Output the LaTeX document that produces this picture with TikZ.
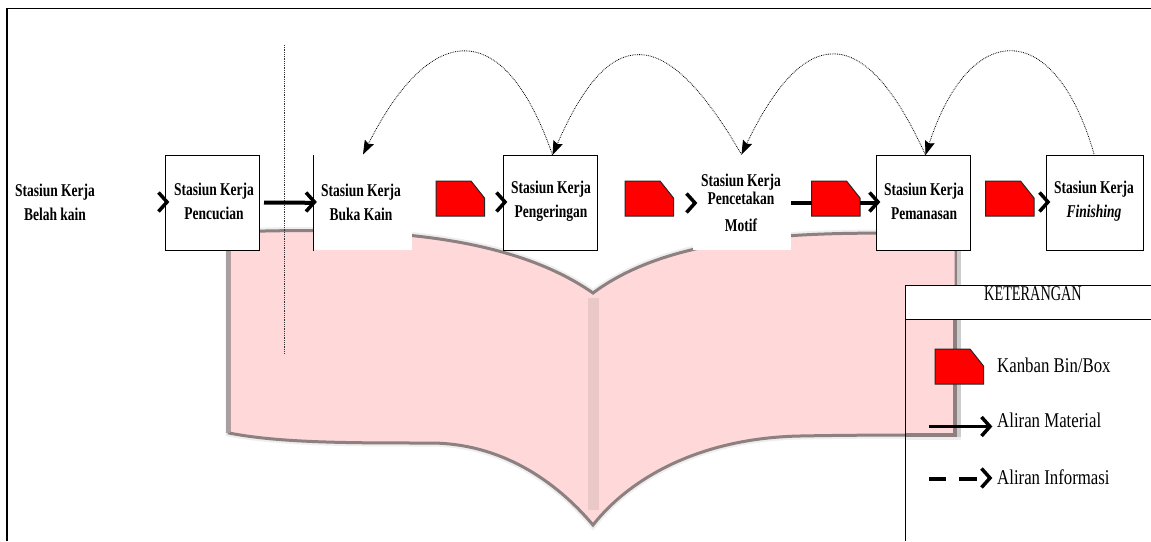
\documentclass[tikz,border=0pt]{standalone}
\usepackage{fontspec}
\setmainfont[FakeStretch=0.75]{Liberation Serif}
\newfontfamily\legendfont[FakeStretch=0.80]{Liberation Serif}
\newfontfamily\headfont[FakeStretch=0.68]{Liberation Serif}
\usetikzlibrary{arrows.meta}
\definecolor{bookfill}{HTML}{FFD9D9}
\definecolor{bookedge}{HTML}{8C8080}
\definecolor{bookshade}{HTML}{A8A0A0}
\definecolor{bookglow}{HTML}{EFEDED}
\definecolor{spine}{HTML}{EBC8C8}
\tikzset{
  x=1pt,y=-1pt,
  station/.style={draw=black,line width=1pt,fill=white,minimum height=95pt,inner sep=0pt},
  stationtext/.style={font=\fontsize{18}{24}\selectfont\bfseries,align=center,inner sep=0pt},
  legendtext/.style={font=\legendfont\fontsize{21}{24}\selectfont,inner sep=0pt},
  headtext/.style={font=\headfont\fontsize{21}{24}\selectfont,inner sep=0pt},
  kanban/.style={draw=black!85,line width=1pt,fill=red},
  chev/.style={line width=3.5pt,line cap=butt},
  flowline/.style={line width=4pt},
  infoflow/.style={line width=.8pt,densely dotted,-{Stealth[length=14pt,width=10pt,inset=2pt]}},
}
\newcommand{\kanbanat}[2]{\draw[kanban] (#1,#2) -- ++(35,0) -- ++(13.5,17) -- ++(0,18) -- ++(-48.5,0) -- cycle;}
\newcommand{\chevat}[2]{\draw[chev] (#1-8.5,#2-9.5) -- (#1,#2) -- (#1-8.5,#2+9.5);}
\newcommand{\bookshape}{(229,232) .. controls (350,228) and (500,228) .. (593,293) .. controls (680,228) and (830,232) .. (956,234) -- (956,435) .. controls (900,435) and (850,435) .. (800,436) .. controls (700,438) and (630,478) .. (593,525) .. controls (555,480) and (500,443) .. (430,443) .. controls (350,443) and (280,443) .. (229,433) -- cycle}
\begin{document}
\begin{tikzpicture}
\useasboundingbox (0,0) rectangle (1151,541);
\fill[white] (0,0) rectangle (1151,541);
% frame
\draw[line width=1.6pt] (7,541) -- (7,8.5) -- (1151,8.5);
\draw[line width=2.4pt] (7,155) -- (7,251);
% book
\draw[line width=7pt,draw=bookglow] \bookshape;
\draw[line width=3pt,draw=bookedge,fill=bookfill] \bookshape;
\draw[line width=4pt,draw=bookshade] (228,232) -- (228,433);
\draw[line width=4pt,draw=black!20] (959,234) -- (959,436);
\fill[spine] (588,298) rectangle (599,510);
% dotted vertical
\coordinate (va) at (284,45);
\coordinate (vb) at (284,353);
\draw[line width=.8pt,densely dotted,black!80] (va) -- (vb);
% stations
\node[station,minimum width=94.5pt] (s2) at (212.7,202.8) {};
\node[fill=white,inner sep=0pt,minimum width=98pt,minimum height=95pt] (s3) at (363,202.8) {};
\draw[line width=1pt] (s3.north west) -- (s3.south west);
\node[station,minimum width=94pt] (s4) at (550,202.8) {};
\node[fill=white,inner sep=0pt,minimum width=98pt,minimum height=88pt] (s5) at (742,206.3) {};
\coordinate (s5top) at (741.5,154.5);
\node[station,minimum width=94pt] (s6) at (923,202.8) {};
\node[station,minimum width=97pt] (s7) at (1094.5,202.8) {};
% labels
\node[stationtext] (t1) at (55,202.5) {Stasiun Kerja\\Belah kain};
\node[stationtext] (t2) at (214,201.5) {Stasiun Kerja\\Pencucian};
\node[stationtext] (t3) at (361,202) {Stasiun Kerja\\Buka Kain};
\node[stationtext] (t4) at (551,201.5) {Stasiun Kerja\\Pengeringan};
\node[stationtext] (t5a) at (741,189) {Stasiun Kerja\\[-6pt]Pencetakan};
\node[stationtext] (t5b) at (741,225) {Motif};
\node[stationtext] (t6) at (924,201.5) {Stasiun Kerja\\Pemanasan};
\node[stationtext] (t7) at (1094,201.5) {Stasiun Kerja\\\textit{Finishing}};
% kanbans
\kanbanat{436}{181}
\kanbanat{625}{181}
\kanbanat{811.5}{181}
\kanbanat{985.5}{181}
% flows
\draw[flowline] (264,202.5) -- (s3.west);
\chevat{167}{202}
\chevat{314.5}{202}
\chevat{505}{202}
\chevat{695}{203}
\draw[flowline] (s5.east |- 0,202.5) -- (812,202.5);
\draw[flowline] (860,202.5) -- (876,202.5);
\chevat{878}{202}
\chevat{1048}{202}
% information arcs
\coordinate (a3) at (363,154.5);
\coordinate (a4) at (552.5,155);
\coordinate (a6) at (925.5,155);
\coordinate (a7) at (1094,154);
\draw[infoflow] (a4) .. controls (505,18) and (432,18) .. (a3);
\draw[infoflow] (s5top) .. controls (665,23) and (610,23) .. (a4);
\draw[infoflow] (a6) .. controls (865,22) and (805,22) .. (s5top);
\draw[infoflow] (a7) .. controls (1055,18) and (970,18) .. (a6);
% legend
\fill[white] (905,285) rectangle (1151,541);
\fill[bookfill] (905,319.5) rectangle (953,435);
\fill[bookedge] (953,319.5) rectangle (957,435);
\fill[black!20] (957,319.5) rectangle (961,437);
\fill[bookedge] (905,433) rectangle (957,437);
\fill[bookglow] (905,437) rectangle (961,440);
\draw[line width=1pt] (905,541) -- (905,285) -- (1151,285);
\draw[line width=1pt] (905,319) -- (1151,319);
\node[headtext] (lh) at (1033,294) {KETERANGAN};
\kanbanat{935}{349}
\node[legendtext,anchor=west] (l1) at (997,365) {Kanban Bin/Box};
\node[legendtext,anchor=west] (l2) at (997,420) {Aliran Material};
\node[legendtext,anchor=west] (l3) at (997,477) {Aliran Informasi};
\draw[line width=3pt] (929,426.5) -- (989,426.5);
\chevat{990}{426.5}
\draw[line width=3.5pt] (929,479) -- (946,479);
\draw[line width=3.5pt] (959,479) -- (977,479);
\chevat{990}{478}
\end{tikzpicture}
\end{document}
